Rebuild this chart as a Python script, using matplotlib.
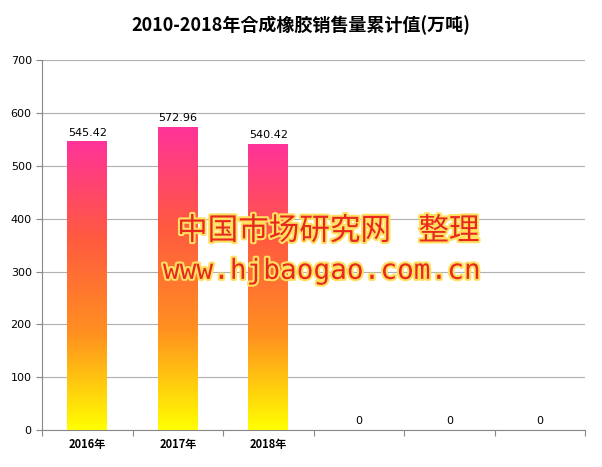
import matplotlib
matplotlib.use("Agg")
import matplotlib.pyplot as plt
import numpy as np
from matplotlib.colors import LinearSegmentedColormap
import matplotlib.patheffects as pe
from matplotlib import font_manager as fm

cjk = None
for f in fm.findSystemFonts():
    if "CJK" in f and ("SC" in f or "Sans" in f):
        cjk = f
        if "SC" in f or "ttc" in f:
            break
if cjk:
    fm.fontManager.addfont(cjk)
    cjk_name = fm.FontProperties(fname=cjk).get_name()
else:
    cjk_name = "Noto Sans CJK SC"
plt.rcParams['font.family'] = ['DejaVu Sans', cjk_name]

categories = ["2016年", "2017年", "2018年", "", "", ""]
values = [545.42, 572.96, 540.42, 0, 0, 0]
labels = ["545.42", "572.96", "540.42", "0", "0", "0"]
title = "2010-2018年合成橡胶销售量累计值(万吨)"

fig = plt.figure(figsize=(6.02, 4.67), dpi=100)
ax = fig.add_axes([0.07, 0.079, 0.902, 0.792])
ax.set_yticks(range(0, 701, 100))
ax.yaxis.grid(True, color="#b0b0b0", lw=0.8)
ax.set_axisbelow(True)
for s in ["top", "right"]:
    ax.spines[s].set_visible(False)
ax.spines["left"].set_color("#888888")
ax.spines["bottom"].set_color("#888888")

cmap = LinearSegmentedColormap.from_list("g", ["#FFFF00", "#FF9020", "#FF5A40", "#FF3399"])
grad = np.linspace(0, 1, 256).reshape(-1, 1)
w = 0.44
x = np.arange(len(categories))
for xi, v, lab in zip(x, values, labels):
    if v > 0:
        ax.imshow(grad, extent=(xi - w / 2, xi + w / 2, 0, v), origin="lower",
                  cmap=cmap, aspect="auto", zorder=2)
    ax.text(xi, v + 8, lab, ha="center", va="bottom", fontsize=8)
ax.set_xlim(-0.5, 5.5)
ax.set_ylim(0, 700)

ax.set_xticks(np.arange(-0.5, 6, 1))
ax.set_xticklabels([])
ax.set_xticks(x, minor=True)
ax.set_xticklabels(categories, minor=True, fontsize=8, fontweight="bold", family=cjk_name)
ax.tick_params(axis="x", which="minor", length=0, pad=6)
ax.tick_params(axis="x", which="major", length=4, color="#888888")
ax.tick_params(axis="y", labelsize=8, length=4, color="#888888")

fig.text(0.5, 0.945, title, ha="center", va="center", fontsize=13, fontweight="bold",
         family=cjk_name)

eff = [pe.withStroke(linewidth=3, foreground="#FFE060")]
fig.text(0.545, 0.505, "中国市场研究网    整理", ha="center", va="center", fontsize=22,
         color="#E8281E", path_effects=eff, family=cjk_name)
fig.text(0.535, 0.42, "www.hjbaogao.com.cn", ha="center", va="center", fontsize=20,
         color="#E8281E", path_effects=eff, family="DejaVu Sans Mono")

fig.savefig("out.png", dpi=100)
